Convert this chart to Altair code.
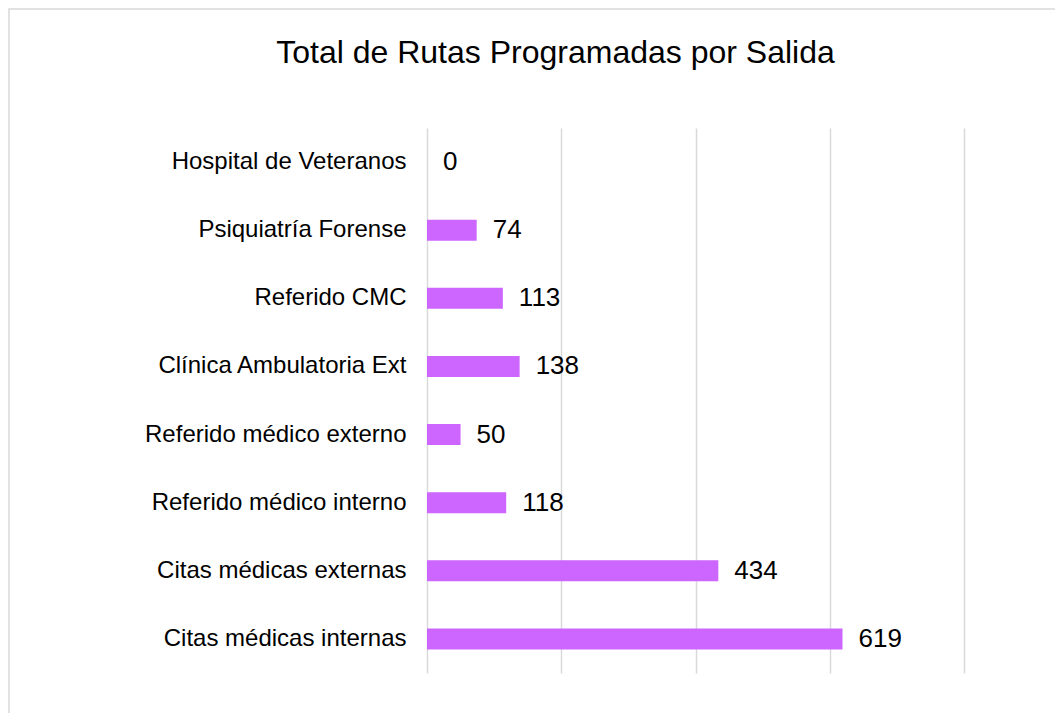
import altair as alt
import pandas as pd

categories = [
    "Hospital de Veteranos",
    "Psiquiatría Forense",
    "Referido CMC",
    "Clínica Ambulatoria Ext",
    "Referido médico externo",
    "Referido médico interno",
    "Citas médicas externas",
    "Citas médicas internas",
]
values = [0, 74, 113, 138, 50, 118, 434, 619]
grid_ticks = [0, 200, 400, 600, 800]

df = pd.DataFrame({"cat": categories, "val": values})
frame_df = pd.DataFrame({"f": [1]})

FONT = "Liberation Sans"

x_enc = alt.X(
    "val:Q",
    scale=alt.Scale(domain=[0, 800], nice=False),
    axis=alt.Axis(
        values=grid_ticks,
        grid=True,
        gridColor="#d9d9d9",
        gridWidth=1.5,
        domain=False,
        ticks=False,
        labels=False,
        title=None,
    ),
)
y_enc = alt.Y(
    "cat:N",
    sort=categories,
    scale=alt.Scale(paddingInner=0.69, paddingOuter=0.345),
    axis=alt.Axis(
        domain=False,
        ticks=False,
        grid=False,
        title=None,
        labelFont=FONT,
        labelFontSize=24,
        labelColor="#000000",
        labelPadding=21,
        labelLimit=400,
    ),
)

bars = alt.Chart(df).mark_bar(color="#CC66FF").encode(x=x_enc, y=y_enc)

text = alt.Chart(df).mark_text(
    align="left", baseline="middle", dx=16, font=FONT, fontSize=26, color="#000000"
).encode(x="val:Q", y=alt.Y("cat:N", sort=categories), text="val:Q")

frame = alt.Chart(frame_df).mark_rect(
    fill=None, stroke="#d9d9d9", strokeWidth=1.5
).encode(
    x=alt.value(-418),
    y=alt.value(-119),
    x2=alt.value(900),
    y2=alt.value(900),
)

chart = (
    alt.layer(frame, bars, text)
    .properties(
        width=537,
        height=545,
        padding={"left": 419, "top": 120, "right": 91, "bottom": 40},
        autosize=alt.AutoSizeParams(type="none"),
        title=alt.TitleParams(
            "Total de Rutas Programadas por Salida",
            font=FONT,
            fontSize=32,
            fontWeight="normal",
            color="#000000",
            anchor="middle",
            frame="group",
            dx=-140,
            offset=-62,
        ),
    )
    .configure_view(stroke=None)
)

chart.save("out.html", embed_options={"renderer": "svg", "actions": False})
